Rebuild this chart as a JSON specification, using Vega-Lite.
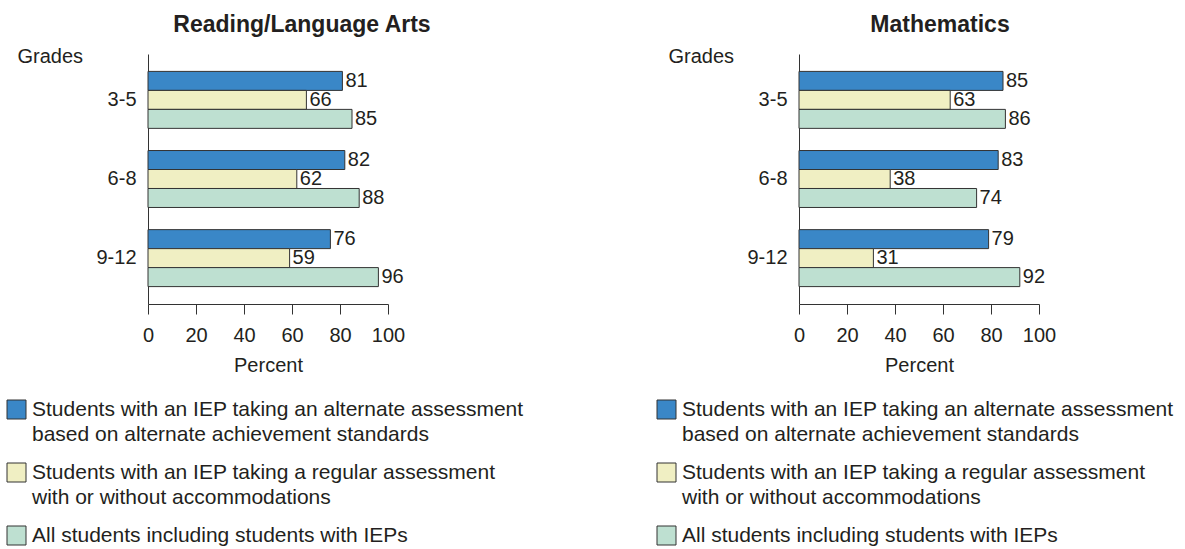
{
  "$schema": "https://vega.github.io/schema/vega-lite/v6.json",
  "background": "white",
  "padding": {"left": 6, "top": 13, "right": 0, "bottom": 0},
  "config": {
    "font": "Liberation Sans",
    "view": {"stroke": null},
    "axis": {
      "labelFont": "Liberation Sans",
      "labelFontSize": 20,
      "labelColor": "#231f20",
      "titleFont": "Liberation Sans",
      "titleFontSize": 20,
      "titleFontWeight": "normal",
      "titleColor": "#231f20",
      "domainColor": "#333333",
      "tickColor": "#333333",
      "grid": false
    },
    "legend": {
      "labelFont": "Liberation Sans",
      "padding": 0
    },
    "title": {"font": "Liberation Sans"}
  },
  "datasets": {
    "scores": [
      {"subject": "Reading/Language Arts", "grade": "3-5", "group": "Students with an IEP taking an alternate assessment\nbased on alternate achievement standards", "value": 81},
      {"subject": "Reading/Language Arts", "grade": "3-5", "group": "Students with an IEP taking a regular assessment\nwith or without accommodations", "value": 66},
      {"subject": "Reading/Language Arts", "grade": "3-5", "group": "All students including students with IEPs", "value": 85},
      {"subject": "Reading/Language Arts", "grade": "6-8", "group": "Students with an IEP taking an alternate assessment\nbased on alternate achievement standards", "value": 82},
      {"subject": "Reading/Language Arts", "grade": "6-8", "group": "Students with an IEP taking a regular assessment\nwith or without accommodations", "value": 62},
      {"subject": "Reading/Language Arts", "grade": "6-8", "group": "All students including students with IEPs", "value": 88},
      {"subject": "Reading/Language Arts", "grade": "9-12", "group": "Students with an IEP taking an alternate assessment\nbased on alternate achievement standards", "value": 76},
      {"subject": "Reading/Language Arts", "grade": "9-12", "group": "Students with an IEP taking a regular assessment\nwith or without accommodations", "value": 59},
      {"subject": "Reading/Language Arts", "grade": "9-12", "group": "All students including students with IEPs", "value": 96},
      {"subject": "Mathematics", "grade": "3-5", "group": "Students with an IEP taking an alternate assessment\nbased on alternate achievement standards", "value": 85},
      {"subject": "Mathematics", "grade": "3-5", "group": "Students with an IEP taking a regular assessment\nwith or without accommodations", "value": 63},
      {"subject": "Mathematics", "grade": "3-5", "group": "All students including students with IEPs", "value": 86},
      {"subject": "Mathematics", "grade": "6-8", "group": "Students with an IEP taking an alternate assessment\nbased on alternate achievement standards", "value": 83},
      {"subject": "Mathematics", "grade": "6-8", "group": "Students with an IEP taking a regular assessment\nwith or without accommodations", "value": 38},
      {"subject": "Mathematics", "grade": "6-8", "group": "All students including students with IEPs", "value": 74},
      {"subject": "Mathematics", "grade": "9-12", "group": "Students with an IEP taking an alternate assessment\nbased on alternate achievement standards", "value": 79},
      {"subject": "Mathematics", "grade": "9-12", "group": "Students with an IEP taking a regular assessment\nwith or without accommodations", "value": 31},
      {"subject": "Mathematics", "grade": "9-12", "group": "All students including students with IEPs", "value": 92}
    ]
  },
  "bounds": "flush",
  "spacing": 411,
  "resolve": {"scale": {"color": "independent"}, "legend": {"color": "independent"}},
  "hconcat": [
    {
      "width": 240,
      "height": 250,
      "data": {"name": "scores"},
      "transform": [{"filter": "datum.subject == 'Reading/Language Arts'"}],
      "title": {"text": "Reading/Language Arts", "fontSize": 23, "fontWeight": "bold", "color": "#231f20", "anchor": "middle", "dx": 34, "offset": 10},
      "encoding": {
        "y": {
          "field": "grade", "type": "nominal", "sort": ["3-5", "6-8", "9-12"],
          "scale": {"paddingInner": 0.28, "paddingOuter": 0.22},
          "axis": {"title": "Grades", "titleAngle": 0, "titleAlign": "left", "titleX": -131, "titleY": 8.5, "titleBaseline": "alphabetic", "ticks": false, "tickSize": 0, "labelPadding": 12}
        },
        "yOffset": {
          "field": "group", "type": "nominal",
          "sort": ["Students with an IEP taking an alternate assessment\nbased on alternate achievement standards", "Students with an IEP taking a regular assessment\nwith or without accommodations", "All students including students with IEPs"],
          "scale": {"paddingInner": 0, "paddingOuter": 0}
        },
        "x": {
          "field": "value", "type": "quantitative",
          "scale": {"domain": [0, 100]},
          "axis": {"title": "Percent", "values": [0, 20, 40, 60, 80, 100], "tickSize": 10, "labelPadding": 11, "titlePadding": 10, "labelFlush": false}
        }
      },
      "layer": [
        {
          "mark": {"type": "bar", "stroke": "#333333", "strokeWidth": 1},
          "encoding": {
            "color": {
              "field": "group", "type": "nominal",
              "scale": {
                "domain": ["Students with an IEP taking an alternate assessment\nbased on alternate achievement standards", "Students with an IEP taking a regular assessment\nwith or without accommodations", "All students including students with IEPs"],
                "range": ["#3a87c7", "#f0efc3", "#bee0d1"]
              },
              "legend": {
                "orient": "none", "legendX": -142, "legendY": 345, "title": null, "direction": "vertical",
                "symbolType": "square", "symbolSize": 361, "symbolStrokeColor": "#333333", "symbolStrokeWidth": 1, "symbolOpacity": 1,
                "labelFontSize": 21, "labelColor": "#231f20", "labelLimit": 700, "labelOffset": 5, "labelBaseline": "top", "rowPadding": 16,
                "labelExpr": "split(datum.label, '\\n')",
                "encode": {"labels": {"update": {"lineHeight": {"value": 25}, "dy": {"value": -11}}}}
              }
            }
          }
        },
        {
          "mark": {"type": "text", "align": "left", "baseline": "middle", "dx": 3, "fontSize": 20, "color": "#231f20"},
          "encoding": {"text": {"field": "value", "type": "quantitative"}}
        }
      ]
    },
    {
      "width": 240,
      "height": 250,
      "data": {"name": "scores"},
      "transform": [{"filter": "datum.subject == 'Mathematics'"}],
      "title": {"text": "Mathematics", "fontSize": 23, "fontWeight": "bold", "color": "#231f20", "anchor": "middle", "dx": 21, "offset": 10},
      "encoding": {
        "y": {
          "field": "grade", "type": "nominal", "sort": ["3-5", "6-8", "9-12"],
          "scale": {"paddingInner": 0.28, "paddingOuter": 0.22},
          "axis": {"title": "Grades", "titleAngle": 0, "titleAlign": "left", "titleX": -131, "titleY": 8.5, "titleBaseline": "alphabetic", "ticks": false, "tickSize": 0, "labelPadding": 12}
        },
        "yOffset": {
          "field": "group", "type": "nominal",
          "sort": ["Students with an IEP taking an alternate assessment\nbased on alternate achievement standards", "Students with an IEP taking a regular assessment\nwith or without accommodations", "All students including students with IEPs"],
          "scale": {"paddingInner": 0, "paddingOuter": 0}
        },
        "x": {
          "field": "value", "type": "quantitative",
          "scale": {"domain": [0, 100]},
          "axis": {"title": "Percent", "values": [0, 20, 40, 60, 80, 100], "tickSize": 10, "labelPadding": 11, "titlePadding": 10, "labelFlush": false}
        }
      },
      "layer": [
        {
          "mark": {"type": "bar", "stroke": "#333333", "strokeWidth": 1},
          "encoding": {
            "color": {
              "field": "group", "type": "nominal",
              "scale": {
                "domain": ["Students with an IEP taking an alternate assessment\nbased on alternate achievement standards", "Students with an IEP taking a regular assessment\nwith or without accommodations", "All students including students with IEPs"],
                "range": ["#3a87c7", "#f0efc3", "#bee0d1"]
              },
              "legend": {
                "orient": "none", "legendX": -143, "legendY": 345, "title": null, "direction": "vertical",
                "symbolType": "square", "symbolSize": 361, "symbolStrokeColor": "#333333", "symbolStrokeWidth": 1, "symbolOpacity": 1,
                "labelFontSize": 21, "labelColor": "#231f20", "labelLimit": 700, "labelOffset": 5, "labelBaseline": "top", "rowPadding": 16,
                "labelExpr": "split(datum.label, '\\n')",
                "encode": {"labels": {"update": {"lineHeight": {"value": 25}, "dy": {"value": -11}}}}
              }
            }
          }
        },
        {
          "mark": {"type": "text", "align": "left", "baseline": "middle", "dx": 3, "fontSize": 20, "color": "#231f20"},
          "encoding": {"text": {"field": "value", "type": "quantitative"}}
        }
      ]
    }
  ]
}
